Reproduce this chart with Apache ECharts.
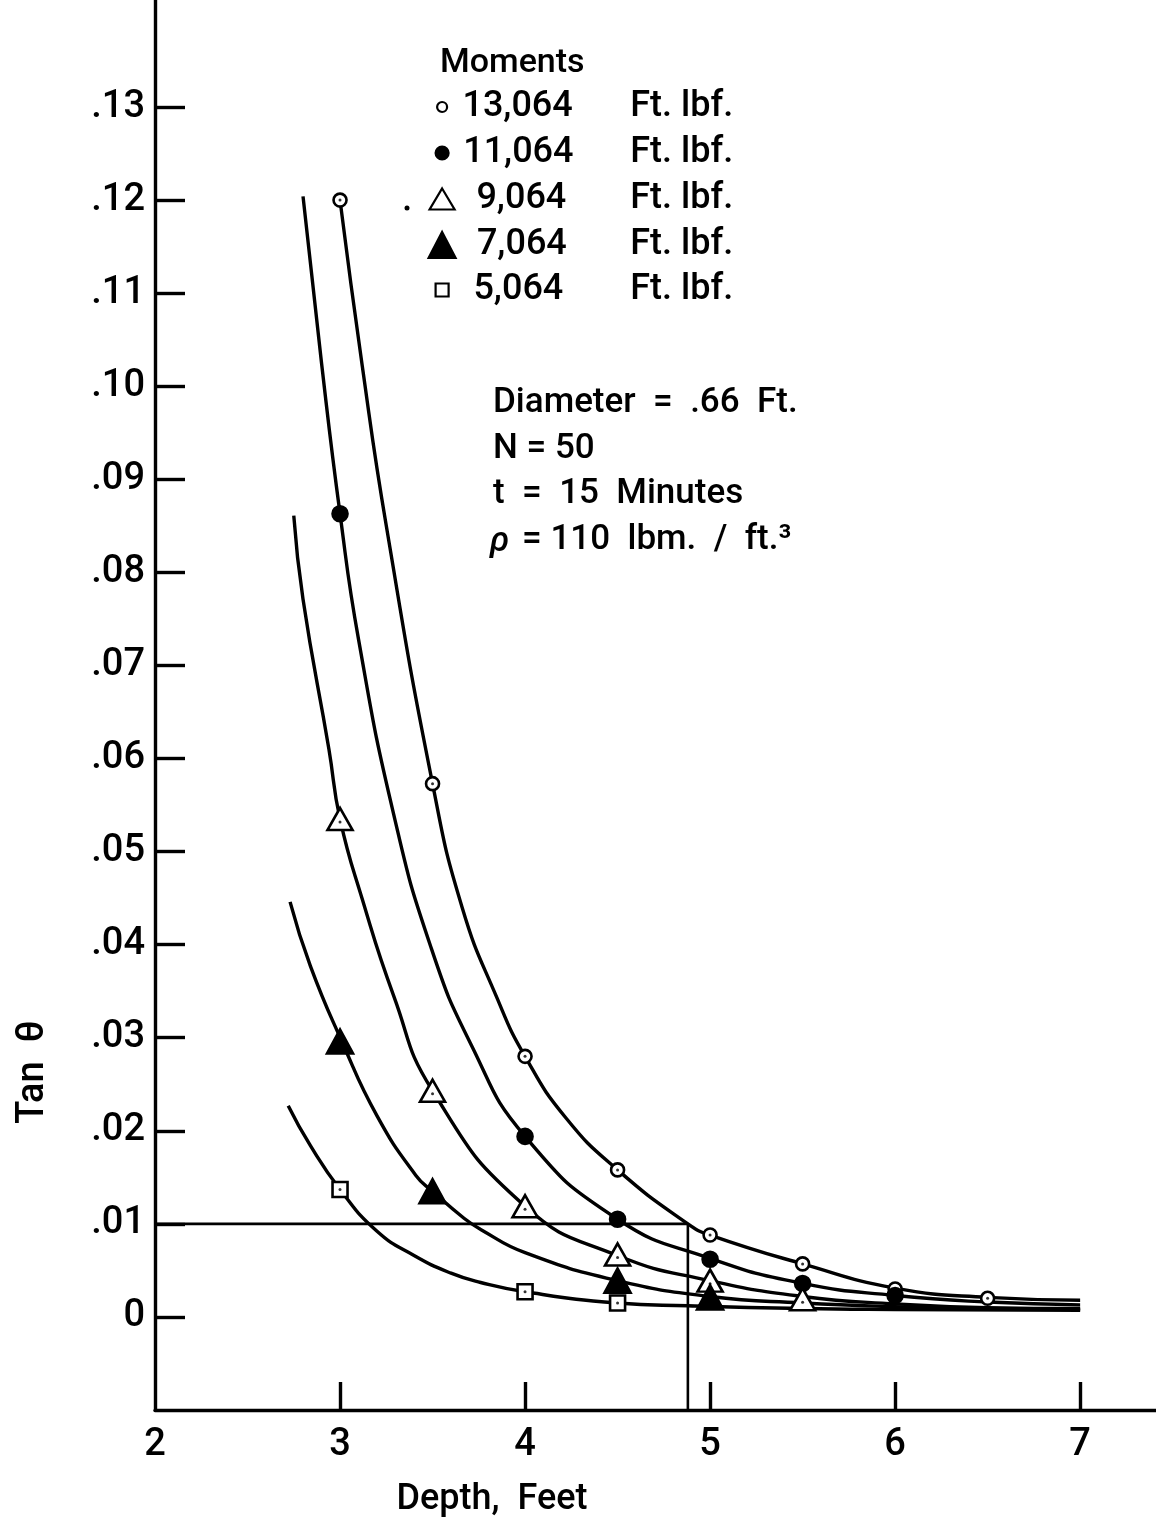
<!DOCTYPE html>
<html><head><meta charset="utf-8">
<script src="https://cdn.jsdelivr.net/npm/echarts@6/dist/echarts.min.js"></script>
<style>html,body{margin:0;padding:0;background:#fff}#c{width:1156px;height:1526px}</style>
</head><body><div id="c"></div>
<script>
// ---------- data ----------
const seriesNames = ['13,064 Ft. lbf.', '11,064 Ft. lbf.', '9,064 Ft. lbf.', '7,064 Ft. lbf.', '5,064 Ft. lbf.'];
const legendNumbers = ['13,064', '11,064', '9,064', '7,064', '5,064'];
const xLabelValues = [2, 3, 4, 5, 6, 7];
const xTickValues = [3, 4, 5, 6, 7];
const yTickValues = [0, 0.01, 0.02, 0.03, 0.04, 0.05, 0.06, 0.07, 0.08, 0.09, 0.10, 0.11, 0.12, 0.13];

// measured points (Depth ft, tan theta)
const points13064 = [[3, 0.1200], [3.5, 0.0573], [4, 0.0280], [4.5, 0.0158], [5, 0.0088], [5.5, 0.0057], [6, 0.0030], [6.5, 0.0020]];
const points11064 = [[3, 0.0863], [4, 0.0194], [4.5, 0.0105], [5, 0.0062], [5.5, 0.0036], [6, 0.0023]];
const points9064  = [[3, 0.0535], [3.5, 0.0243], [4, 0.0119], [4.5, 0.0067], [5, 0.0039], [5.5, 0.0019]];
const points7064  = [[3, 0.0296], [3.5, 0.0135], [4.5, 0.0039], [5, 0.0021]];
const points5064  = [[3, 0.0137], [4, 0.0027], [4.5, 0.0015]];

// fitted curves
const curve13064 = [[3.00, 0.1200], [3.12, 0.1022], [3.25, 0.0850], [3.50, 0.0573], [3.66, 0.0440], [3.85, 0.0342], [4.00, 0.0280], [4.22, 0.0214], [4.50, 0.0158], [4.88, 0.0100], [5.00, 0.0088], [5.50, 0.0057], [6.00, 0.0031], [6.50, 0.0021], [7.00, 0.0018]];
const curve11064 = [[2.80, 0.1204], [2.90, 0.1025], [3.00, 0.0863], [3.10, 0.0728], [3.29, 0.0540], [3.49, 0.0398], [3.71, 0.0292], [4.00, 0.0194], [4.50, 0.0105], [5.00, 0.0063], [5.50, 0.0036], [6.00, 0.0023], [6.50, 0.0016], [7.00, 0.0013]];
const curve9064  = [[2.75, 0.0861], [2.80, 0.0771], [2.94, 0.0610], [3.00, 0.0535], [3.12, 0.0449], [3.29, 0.0345], [3.50, 0.0243], [4.00, 0.0119], [4.50, 0.0066], [5.00, 0.0039], [5.50, 0.0022], [6.00, 0.0014], [6.50, 0.0010], [7.00, 0.0009]];
const curve7064  = [[2.73, 0.0446], [2.84, 0.0377], [3.01, 0.0296], [3.20, 0.0216], [3.41, 0.0152], [3.50, 0.0135], [3.67, 0.0106], [3.76, 0.0094], [4.00, 0.0069], [4.50, 0.0039], [5.00, 0.0022], [5.50, 0.0015], [6.00, 0.0011], [6.50, 0.0009], [7.00, 0.0008]];
const curve5064  = [[2.72, 0.0227], [2.84, 0.0184], [3.00, 0.0137], [3.20, 0.0092], [3.40, 0.0066], [3.60, 0.0047], [3.76, 0.0037], [4.00, 0.0027], [4.50, 0.0015], [4.88, 0.0012], [5.50, 0.0009], [6.00, 0.0008], [7.00, 0.0007]];

const referenceLine = [[2, 0.01], [4.88, 0.01], [4.88, -0.01]];

const annotationLines = ['Diameter  =  .66  Ft.', 'N = 50', 't  =  15  Minutes', '= 110  lbm.  /  ft.³'];

// ---------- chart ----------
const FONT = 'Roboto, "Liberation Sans", sans-serif';
const black = '#000';
const chart = echarts.init(document.getElementById('c'), null, { renderer: 'canvas' });

const pointSets = [points13064, points11064, points9064, points7064, points5064];
const curveSets = [curve13064, curve11064, curve9064, curve7064, curve5064];
const markerStyles = [
  { symbol: 'circle', size: 13, fill: '#fff', dot: true, legendSize: [10, 10] },
  { symbol: 'circle', size: 15, fill: black, dot: false, legendSize: [13, 13] },
  { symbol: 'triangle', size: [25, 22], fill: '#fff', dot: true, legendSize: [25, 21] },
  { symbol: 'triangle', size: [26, 24], fill: black, dot: false, legendSize: [27, 26] },
  { symbol: 'rect', size: 15, fill: '#fff', dot: true, legendSize: [13, 13] }
];
const legendRowY = [107, 153, 199, 245, 290];

const series = [];
curveSets.forEach((c, i) => {
  series.push({
    type: 'line', name: 'curve ' + legendNumbers[i], data: c, smooth: 0.5,
    showSymbol: false, symbol: 'none', silent: true, z: 2,
    lineStyle: { color: black, width: 3.4 }
  });
});
series.push({
  type: 'line', name: 'reference', data: referenceLine, showSymbol: false, symbol: 'none', silent: true, z: 2,
  lineStyle: { color: black, width: 2.6 }
});
pointSets.forEach((p, i) => {
  const m = markerStyles[i];
  series.push({
    type: 'scatter', name: seriesNames[i], data: p, symbol: m.symbol, symbolSize: m.size, z: 5,
    itemStyle: { color: m.fill, borderColor: black, borderWidth: 2.6, opacity: 1 }
  });
  if (m.dot) {
    series.push({
      type: 'scatter', name: 'dot ' + legendNumbers[i], data: p, symbol: 'circle', symbolSize: 3, z: 6,
      symbolOffset: m.symbol === 'triangle' ? [0, 3] : [0, 0],
      silent: true, itemStyle: { color: black }
    });
  }
});

const LFS = 36;
const legends = seriesNames.map((name, i) => {
  const m = markerStyles[i];
  const w = m.legendSize[0], h = m.legendSize[1];
  const rs = { fontFamily: FONT, fontSize: LFS, fontWeight: 500, color: black };
  return {
    data: [{ name: name, icon: m.symbol, itemStyle: { color: m.fill, borderColor: black, borderWidth: 2.2 } }],
    left: 441 - w / 2, top: legendRowY[i] - 18, padding: 0, itemGap: 0,
    itemWidth: w, itemHeight: h, selectedMode: false, symbolKeepAspect: false,
    formatter: () => '{n|' + legendNumbers[i] + '}{f|Ft.}{l|lbf.}',
    textStyle: {
      color: black, fontFamily: FONT, fontSize: LFS, fontWeight: 500, lineHeight: 36,
      rich: {
        n: Object.assign({ width: 136 - w / 2, align: 'right' }, rs),
        f: Object.assign({ width: 60, padding: [0, 0, 0, 38] }, rs),
        l: Object.assign({}, rs)
      }
    }
  };
});

const graphics = [
  { type: 'text', left: 440, top: 46, style: { text: 'Moments', font: '500 34px ' + FONT, fill: black } },
  { type: 'circle', shape: { cx: 407, cy: 208, r: 2.5 }, style: { fill: black } }
];
const annY = [386, 432, 477, 523];
annotationLines.forEach((t, i) => {
  graphics.push({ type: 'text', left: i === 3 ? 522 : 493, top: annY[i], style: { text: t, font: '500 35px ' + FONT, fill: black } });
});
graphics.push({ type: 'text', left: 490, top: annY[3] + 2, style: { text: 'ρ', font: 'italic 500 35px ' + FONT, fill: black } });
graphics.push({ type: 'text', x: 33, y: 1072, rotation: Math.PI / 2, style: { text: 'Tan  θ', font: '500 38px ' + FONT, fill: black, align: 'center', verticalAlign: 'middle' } });
graphics.push({ type: 'text', x: 492, y: 1500, style: { text: 'Depth,  Feet', font: '500 36px ' + FONT, fill: black, align: 'center', verticalAlign: 'middle' } });

const option = {
  backgroundColor: '#fff',
  animation: false,
  grid: { left: 155, right: 0, top: 0, bottom: 116, containLabel: false, outerBoundsMode: 'none' },
  xAxis: {
    type: 'value', min: 2, max: 7.41,
    axisLine: { show: true, onZero: false, lineStyle: { color: black, width: 3.4 } },
    axisTick: { show: true, inside: true, length: 28, customValues: xTickValues, lineStyle: { color: black, width: 3.4 } },
    axisLabel: { customValues: xLabelValues, margin: 16, color: black, fontFamily: FONT, fontWeight: 500, fontSize: 38 },
    splitLine: { show: false }
  },
  yAxis: {
    type: 'value', min: -0.01, max: 0.1415,
    axisLine: { show: true, onZero: false, lineStyle: { color: black, width: 3.4 } },
    axisTick: { show: true, inside: true, length: 30, customValues: yTickValues, lineStyle: { color: black, width: 3.4 } },
    axisLabel: {
      customValues: yTickValues, margin: 10, color: black, fontFamily: FONT, fontWeight: 500, fontSize: 38,
      formatter: v => (Math.abs(v) < 1e-9 ? '0' : '.' + String(Math.round(v * 100)).padStart(2, '0'))
    },
    splitLine: { show: false }
  },
  legend: legends,
  graphic: graphics,
  series: series
};
chart.setOption(option);
</script></body></html>
